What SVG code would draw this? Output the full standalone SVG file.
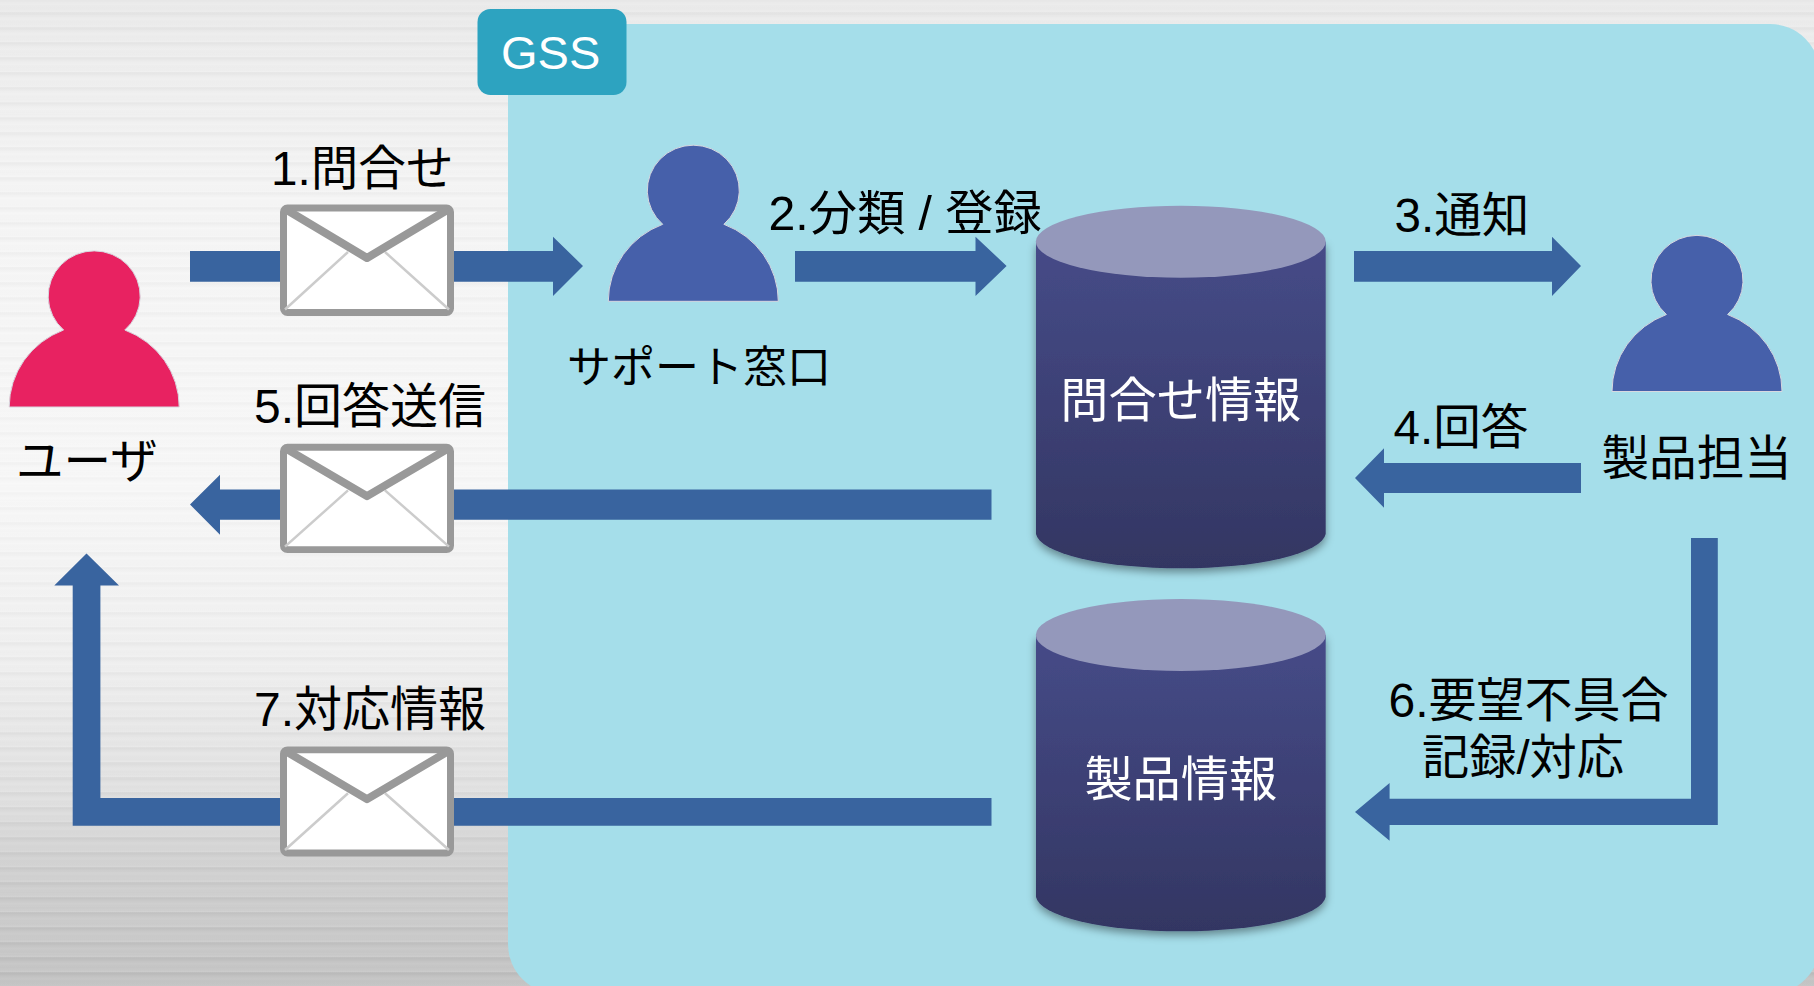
<svg xmlns="http://www.w3.org/2000/svg" xmlns:xlink="http://www.w3.org/1999/xlink" width="1814" height="986" viewBox="0 0 1814 986">
<style>
text{font-family:"Liberation Sans","Noto Sans CJK JP",sans-serif;font-size:48px;fill:#000}
.w{fill:#fff}
.arrow{fill:#39649f}
.skin{stroke:#d8d8e0;stroke-width:1}
.cyl{fill:url(#cylSide);filter:url(#sh)}
.lid{fill:#9498bb}
</style>
<defs>
<linearGradient id="bg" x1="0" y1="0" x2="0" y2="1">
<stop offset="0" stop-color="#ececec"/><stop offset=".1" stop-color="#f1f1f1"/><stop offset=".2" stop-color="#f6f6f6"/><stop offset=".5" stop-color="#f8f8f8"/><stop offset=".68" stop-color="#f0f0f0"/><stop offset=".81" stop-color="#e2e2e2"/><stop offset=".87" stop-color="#d5d5d5"/><stop offset="1" stop-color="#c6c6c6"/>
</linearGradient>
<linearGradient id="stripe" x1="0" y1="0" x2="0" y2="1">
<stop offset="0" stop-color="#000" stop-opacity=".08"/><stop offset=".4" stop-color="#000" stop-opacity="0"/><stop offset="1" stop-color="#fff" stop-opacity=".08"/>
</linearGradient>
<pattern id="stripes" width="10" height="15" patternUnits="userSpaceOnUse" patternTransform="translate(0 12.3)"><rect width="10" height="15" fill="url(#stripe)"/></pattern>
<linearGradient id="fade" x1="0" y1="0" x2="0" y2="1">
<stop offset="0" stop-color="#999"/><stop offset=".5" stop-color="#555"/><stop offset=".8" stop-color="#aaa"/><stop offset="1" stop-color="#fff"/>
</linearGradient>
<mask id="stripeMask" maskUnits="userSpaceOnUse" x="0" y="0" width="1814" height="986"><rect width="1814" height="986" fill="url(#fade)"/></mask>
<linearGradient id="cylSide" x1="0" y1="0" x2="0" y2="1">
<stop offset="0" stop-color="#464b88"/><stop offset="1" stop-color="#333662"/>
</linearGradient>
<filter id="sh" x="-10%" y="-10%" width="120%" height="120%"><feDropShadow dx="0" dy="4" stdDeviation="4" flood-color="#000" flood-opacity=".4"/></filter>
<path id="person" d="M-85 0A85 82.5 0 0 1-30.6-77A46 45.3 0 1 1 30.6-77A85 82.5 0 0 1 85 0Z"/>
<g id="envelope">
<rect x="283.5" y="208" width="167" height="104.5" rx="4" fill="#fff" stroke="#999" stroke-width="7"/>
<path d="M285 309.5L348 252M449 309.5L385 252" fill="none" stroke="#ccc" stroke-width="2.5"/>
<path d="M286 209.5L367 258L448 209.5" fill="none" stroke="#999" stroke-width="8" stroke-linejoin="round"/>
</g>
</defs>
<g id="background">
<rect width="1814" height="986" fill="url(#bg)"/>
<rect width="1814" height="986" fill="url(#stripes)" mask="url(#stripeMask)"/>
<rect x="508" y="24" width="1312" height="970" rx="50" fill="#a5deea"/>
</g>
<g id="gss"><rect x="477.5" y="9" width="149" height="86" rx="13" fill="#2da3c0"/><text class="w" x="501" y="69" style="font-size:47px">GSS</text></g>
<g id="connectors">
<polygon class="arrow" points="190,251 553,251 553,236.7 583,266 553,296 553,281.7 190,281.7"/>
<polygon class="arrow" points="795,251 975.5,251 975.5,236.7 1006.6,266 975.5,296 975.5,281.7 795,281.7"/>
<polygon class="arrow" points="1354,251 1552,251 1552,236.7 1581,266 1552,296 1552,281.7 1354,281.7"/>
<polygon class="arrow" points="1581,463 1384,463 1384,448.3 1355,478 1384,507.7 1384,493 1581,493"/>
<polygon class="arrow" points="991.5,489.4 220,489.4 220,474.8 190,504.5 220,534.7 220,519.7 991.5,519.7"/>
<polygon class="arrow" points="1691,538 1717.8,538 1717.8,825 1389.6,825 1389.6,840.7 1355,812 1389.6,783 1389.6,798.7 1691,798.7"/>
<polygon class="arrow" points="991.5,798 100.4,798 100.4,585.5 119,585.5 86.5,553.5 54.3,585.5 72.7,585.5 72.7,825.8 991.5,825.8"/>
<use id="mail1" xlink:href="#envelope" href="#envelope"/>
<use id="mail5" xlink:href="#envelope" href="#envelope" transform="translate(0 443.8) scale(1 .98) translate(0 -204.5)"/>
<use id="mail7" xlink:href="#envelope" href="#envelope" transform="translate(0 746.4) scale(1 .987) translate(0 -204.5)"/>
<text x="271" y="185" style="font-size:47.6px">1.問合せ</text>
<text x="768.5" y="229.5" style="font-size:48.2px">2.分類 / 登録</text>
<text x="1394.5" y="231.5" style="font-size:47.6px">3.通知</text>
<text x="1393.5" y="444" style="font-size:47.6px">4.回答</text>
<text x="254" y="423">5.回答送信</text>
<text x="1388.5" y="717">6.要望不具合</text>
<text x="1422" y="774" style="font-size:47.2px">記録/対応</text>
<text x="254" y="726">7.対応情報</text>
</g>
<g id="user"><use xlink:href="#person" href="#person" class="skin" fill="#e82261" x="94.2" y="407"/><text x="16" y="478" style="font-size:47.6px">ユーザ</text></g>
<g id="support"><use xlink:href="#person" href="#person" class="skin" fill="#4660aa" x="693.3" y="301.3"/><text x="567" y="383" style="font-size:44px">サポート窓口</text></g>
<g id="product-owner"><use xlink:href="#person" href="#person" class="skin" fill="#4660aa" x="1697" y="391.5"/><text x="1601.5" y="474.5" style="font-size:47.6px">製品担当</text></g>
<g id="inquiry-db">
<path class="cyl" d="M1036 241.7V534A145 36 0 0 0 1325.7 534V241.7Z"/>
<ellipse class="lid" cx="1180.8" cy="241.7" rx="145" ry="36"/>
<text class="w" x="1180.8" y="417" text-anchor="middle" style="font-size:48.2px">問合せ情報</text>
</g>
<g id="product-db">
<path class="cyl" d="M1036 635V897A145 36 0 0 0 1325.7 897V635Z"/>
<ellipse class="lid" cx="1180.8" cy="635" rx="145" ry="36"/>
<text class="w" x="1180.8" y="796" text-anchor="middle" style="font-size:48.2px">製品情報</text>
</g>
</svg>
